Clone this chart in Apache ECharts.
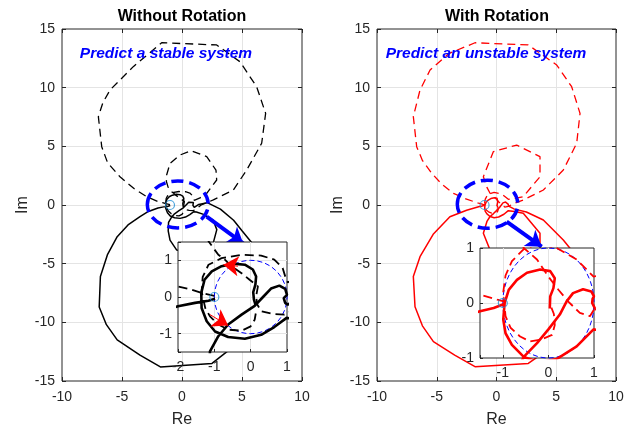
<!DOCTYPE html>
<html>
<head>
<meta charset="utf-8">
<script src="https://cdn.jsdelivr.net/npm/echarts@6/dist/echarts.min.js"></script>
<style>
html, body { margin: 0; padding: 0; background: #fff; }
#main { width: 631px; height: 428px; }
</style>
</head>
<body>
<div id="main"></div>
<script>
// Nyquist curves, [Re, Im]
const blackSolid = [
    [-0.98,-0.05],[-1.16,-0.10],[-1.53,-0.16],[-2.0,-0.25],[-2.8,-0.55],[-3.5,-1.0],[-4.5,-1.7],[-5.4,-2.7],
    [-6.2,-4.2],[-6.8,-6.1],[-6.9,-8.7],[-6.3,-10.2],[-5.4,-11.5],[-3.5,-12.8],[-1.8,-13.8],[2.5,-13.5],
    [3.75,-12.5],[5.5,-10.0],[6.5,-6.5],[6.2,-4.5],[5.8,-3.2],[5.0,-2.2],[4.3,-1.3],[3.2,-0.35],[2.1,0.2],
    [1.4,0.05],[1.02,-0.21],[0.95,-0.16],[0.91,-0.03],[1.0,0.06],[0.95,0.22],[0.79,0.31],[0.56,0.23],
    [0.34,0.0],[0.11,-0.24],[-0.25,-0.48],[-0.62,-0.75],[-0.89,-1.07],[-1.12,-1.48],[-1.15,-2.2],[-1.0,-3.0],
    [-0.44,-3.84],[0.92,-4.1],[2.6,-3.25],[2.9,-2.1],[2.6,-1.3],[1.8,-0.8],[1.2,-0.6],[0.99,-0.57],
    [0.65,-0.82],[0.29,-1.03],[-0.16,-1.14],[-0.62,-1.09],[-0.98,-0.94],[-1.21,-0.66],[-1.35,-0.3],
    [-1.36,0.11],[-1.27,0.47],[-1.07,0.7],[-0.8,0.84],[-0.48,0.91],[-0.16,0.88],[0.06,0.75],[0.15,0.56],
    [0.13,0.34],[0.07,0.13],[0.09,-0.07],[0.13,-0.2]
];
const blackDash = [
    [-1.0,0.03],[-1.35,0.11],[-1.62,0.2],[-2.0,0.29],[-2.94,0.71],[-4.0,1.4],[-5.17,2.41],[-6.2,3.6],
    [-6.69,4.97],[-6.97,7.53],[-6.6,8.7],[-6.0,9.8],[-4.06,11.79],[-1.69,13.83],[2.89,13.64],[4.83,12.21],
    [6.22,10.08],[6.97,7.81],[6.64,5.26],[5.39,2.98],[4.28,1.28],[2.61,0.43],[1.6,0.0],[1.1,-0.4],[0.93,-0.48],
    [0.6,-0.46],[0.29,-0.39],[0.18,-0.2],[0.15,0.02],[0.2,0.29],[-0.03,0.47],[-0.25,0.65],[-0.53,0.84],
    [-0.71,1.02],[-0.89,1.15],[-1.16,1.52],[-1.3,2.0],[-1.28,2.56],[-1.0,3.55],[-0.17,4.26],[0.75,4.63],
    [2.06,4.12],[2.83,2.98],[2.89,2.13],[2.06,0.99],[1.5,0.6],[1.02,0.4],[0.97,0.5],[0.88,0.79],
    [0.65,1.02],[0.29,1.13],[-0.25,1.15],[-0.8,1.06],[-1.16,0.88],[-1.32,0.55],[-1.35,0.15],[-1.25,-0.3],
    [-1.12,-0.53],[-0.89,-0.75],[-0.62,-0.89],[-0.25,-0.92],[0.0,-0.8],[0.11,-0.62],[0.14,-0.45]
];
const redSolid = [
    [-0.94,-0.01],[-1.2,-0.09],[-1.5,-0.15],[-2.5,-0.45],[-3.9,-1.0],[-5.3,-2.5],[-6.4,-4.41],[-6.96,-6.1],
    [-6.82,-8.67],[-6.2,-10.3],[-5.28,-11.65],[-3.5,-12.8],[-1.8,-13.78],[2.66,-13.5],[3.92,-12.6],
    [5.3,-10.0],[6.3,-6.5],[6.15,-3.69],[5.59,-2.98],[3.92,-1.28],[2.5,-0.6],[1.5,-0.35],[1.02,-0.1],
    [0.96,0.0],[0.97,0.08],[1.0,0.12],[0.94,0.21],[0.76,0.25],[0.54,0.18],[0.4,0.03],[0.25,-0.21],
    [0.0,-0.48],[-0.25,-0.73],[-0.54,-0.98],[-0.8,-1.4],[-1.1,-2.41],[-0.26,-4.55],[1.69,-5.11],
    [3.64,-4.12],[3.64,-2.41],[2.24,-0.71],[1.5,-0.55],[0.99,-0.48],[0.62,-0.79],[0.18,-1.02],[-0.2,-1.08],
    [-0.54,-0.98],[-0.8,-0.76],[-0.94,-0.55],[-0.99,-0.3],[-0.96,0.0],[-0.87,0.24],[-0.69,0.42],
    [-0.47,0.55],[-0.18,0.61],[0.04,0.58],[0.14,0.45],[0.11,0.27],[0.04,0.12],[0.03,-0.1]
];
const redDash = [
    [-0.94,0.02],[-1.12,0.06],[-1.5,0.15],[-2.5,0.5],[-3.6,0.99],[-4.6,1.8],[-5.42,2.7],[-6.2,3.8],
    [-6.68,4.97],[-6.96,7.53],[-6.4,9.8],[-5.56,11.5],[-4.0,12.9],[-1.8,13.83],[2.66,13.64],[5.04,11.93],
    [6.29,10.08],[6.99,7.81],[6.71,5.26],[5.59,2.98],[3.92,1.28],[2.24,0.43],[1.4,0.1],[1.0,-0.12],
    [0.91,-0.24],[0.69,-0.18],[0.43,0.03],[0.22,0.24],[0.0,0.48],[-0.25,0.79],[-0.54,1.0],[-0.8,1.5],
    [-1.1,2.41],[-0.26,4.55],[1.69,5.11],[3.64,4.12],[3.64,2.41],[2.24,0.71],[1.5,0.55],[0.99,0.48],
    [0.62,0.79],[0.18,1.0],[-0.2,1.08],[-0.54,0.98],[-0.8,0.76],[-0.94,0.5],[-0.99,0.2],[-0.94,-0.24],
    [-0.83,-0.45],[-0.62,-0.61],[-0.4,-0.7],[-0.15,-0.66],[0.08,-0.58],[0.14,-0.4],[0.12,-0.2],[0.05,-0.05]
];
const critical = [[-1, 0]];
// [cx, cy, rx, ry]
const focusLeft = [[-0.35, 0.05, 2.54, 2.0]];
const focusRight = [[-0.75, 0.07, 2.53, 2.05]];
const unitCircle = [[0, 0, 1, 1]];
const zoomArrowLeft = [[2.06, -1.0], [5.1, -3.27]];
const zoomArrowRight = [[0.85, -1.42], [3.78, -3.55]];
const dirArrows = [
    [[-0.35, 0.84], [-0.75, 0.88]],
    [[-1.12, -0.48], [-0.62, -0.78]]
];
const mainTicks = { x: [-10, 10, 5], y: [-15, 15, 5] };

const FONT = '"Liberation Sans", Arial, sans-serif';
const AX = '#262626';
const GRIDC = '#e4e4e4';

let myChart = echarts.init(document.getElementById('main'));

function mainAxis(dim, gridIndex, pos) {
    let t = mainTicks[dim];
    let first = (pos === 'bottom' || pos === 'left');
    return {
        type: 'value', gridIndex: gridIndex, position: pos,
        min: t[0], max: t[1], interval: t[2],
        name: first ? (dim === 'x' ? 'Re' : 'Im') : '',
        nameLocation: 'middle',
        nameGap: dim === 'x' ? 31 : 31,
        nameTextStyle: { fontFamily: FONT, fontSize: 16, color: AX },
        axisLine: { show: false, onZero: false },
        axisTick: { show: true, inside: true, length: 4, lineStyle: { color: AX } },
        axisLabel: { show: first, margin: dim === 'x' ? 9 : 7, fontFamily: FONT, fontSize: 14, color: AX },
        splitLine: { show: first, showMinLine: false, showMaxLine: false, lineStyle: { color: GRIDC } }
    };
}

function insetAxis(dim, gridIndex, min, max, split) {
    return {
        type: 'value', gridIndex: gridIndex, min: min, max: max, splitNumber: split, z: 11,
        axisLine: { show: false, onZero: false },
        axisTick: { show: true, inside: true, length: 3, lineStyle: { color: AX } },
        axisLabel: {
            margin: dim === 'x' ? 8 : 6, fontFamily: FONT, fontSize: 14, color: AX,
            formatter: function (v) { return Number.isInteger(v) ? String(v) : ''; }
        },
        splitLine: { show: true, showMinLine: false, showMaxLine: false, lineStyle: { color: GRIDC } }
    };
}

function curve(data, idx, color, width, dashed, z) {
    return {
        type: 'line', xAxisIndex: idx, yAxisIndex: idx, data: data, z: z,
        symbol: 'none', showSymbol: false, silent: true, animation: false,
        lineStyle: { color: color, width: width, type: dashed ? dashed : 'solid' }
    };
}

function ellipse(data, idx, width, dash, z) {
    return {
        type: 'custom', xAxisIndex: idx, yAxisIndex: idx, data: data, z: z, silent: true, animation: false,
        dimensions: ['x', 'y', 'rx', 'ry'], encode: { x: 0, y: 1 },
        renderItem: function (params, api) {
            let c = api.coord([api.value(0), api.value(1)]);
            let s = api.size([api.value(2), api.value(3)]);
            return {
                type: 'ellipse',
                shape: { cx: c[0], cy: c[1], rx: s[0], ry: s[1] },
                style: { fill: 'none', stroke: '#0000ff', lineWidth: width, lineDash: dash }
            };
        }
    };
}

function arrows(list, idx, color, width, size, z) {
    return {
        type: 'lines', coordinateSystem: 'cartesian2d', xAxisIndex: idx, yAxisIndex: idx, z: z,
        silent: true, animation: false,
        symbol: ['none', 'arrow'], symbolSize: size,
        lineStyle: { color: color, width: width, opacity: 1, curveness: 0 },
        data: list.map(function (c) { return { coords: c }; })
    };
}

function marker(idx, z) {
    return {
        type: 'scatter', xAxisIndex: idx, yAxisIndex: idx, data: critical, z: z, silent: true,
        symbol: 'circle', symbolSize: 9, animation: false,
        itemStyle: { color: 'rgba(0,0,0,0)', borderColor: '#1f8fd6', borderWidth: 1.2 }
    };
}

function box(left, top, width, height, z) {
    return {
        left: left, top: top, width: width, height: height, z: z,
        outerBoundsMode: 'none', containLabel: false,
        show: true, borderColor: AX, borderWidth: 1, backgroundColor: '#fff'
    };
}

let option = {
    backgroundColor: '#fff',
    animation: false,
    grid: [
        box(62, 29, 240, 352, 0),
        box(377, 29, 239, 352, 0),
        box(178, 242, 109, 110, 10),
        box(480, 248, 114, 110, 10)
    ],
    xAxis: [
        mainAxis('x', 0, 'bottom'), mainAxis('x', 0, 'top'),
        mainAxis('x', 1, 'bottom'), mainAxis('x', 1, 'top'),
        insetAxis('x', 2, -2, 1, 3), insetAxis('x', 3, -1.5, 1, 3)
    ],
    yAxis: [
        mainAxis('y', 0, 'left'), mainAxis('y', 0, 'right'),
        mainAxis('y', 1, 'left'), mainAxis('y', 1, 'right'),
        insetAxis('y', 2, -1.5, 1.5, 3), insetAxis('y', 3, -1, 1, 2)
    ],
    graphic: [
        { type: 'text', x: 182, y: 17, z: 100, style: { text: 'Without Rotation', font: 'bold 16px ' + FONT, fill: '#000', textAlign: 'center', textVerticalAlign: 'middle' } },
        { type: 'text', x: 497, y: 17, z: 100, style: { text: 'With Rotation', font: 'bold 16px ' + FONT, fill: '#000', textAlign: 'center', textVerticalAlign: 'middle' } },
        { type: 'text', x: 166, y: 54, z: 100, style: { text: 'Predict a stable system', font: 'italic bold 15.5px ' + FONT, fill: '#0000ff', textAlign: 'center', textVerticalAlign: 'middle' } },
        { type: 'text', x: 486, y: 54, z: 100, style: { text: 'Predict an unstable system', font: 'italic bold 15.5px ' + FONT, fill: '#0000ff', textAlign: 'center', textVerticalAlign: 'middle' } }
    ],
    series: [
        // without rotation, full view
        curve(blackDash, 0, '#000', 1.3, [8, 5], 2),
        curve(blackSolid, 0, '#000', 1.5, null, 2),
        ellipse(focusLeft, 0, 3.5, [12, 6], 3),
        arrows([zoomArrowLeft], 0, '#0000ff', 4, 15, 3),
        marker(0, 3),
        // with rotation, full view
        curve(redDash, 2, '#ff0000', 1.3, [8, 5], 2),
        curve(redSolid, 2, '#ff0000', 1.5, null, 2),
        ellipse(focusRight, 2, 3.5, [12, 6], 3),
        arrows([zoomArrowRight], 2, '#0000ff', 4, 15, 3),
        marker(2, 3),
        // zoomed insets
        ellipse(unitCircle, 4, 1, [5, 3], 12),
        curve(blackDash, 4, '#000', 1.8, [9, 5], 12),
        curve(blackSolid, 4, '#000', 2.6, null, 12),
        arrows(dirArrows, 4, '#ff0000', 1, 15, 13),
        marker(4, 13),
        ellipse(unitCircle, 5, 1, [5, 3], 12),
        curve(redDash, 5, '#ff0000', 1.8, [9, 5], 12),
        curve(redSolid, 5, '#ff0000', 2.6, null, 12),
        marker(5, 13)
    ]
};

myChart.setOption(option);
</script>
</body>
</html>
